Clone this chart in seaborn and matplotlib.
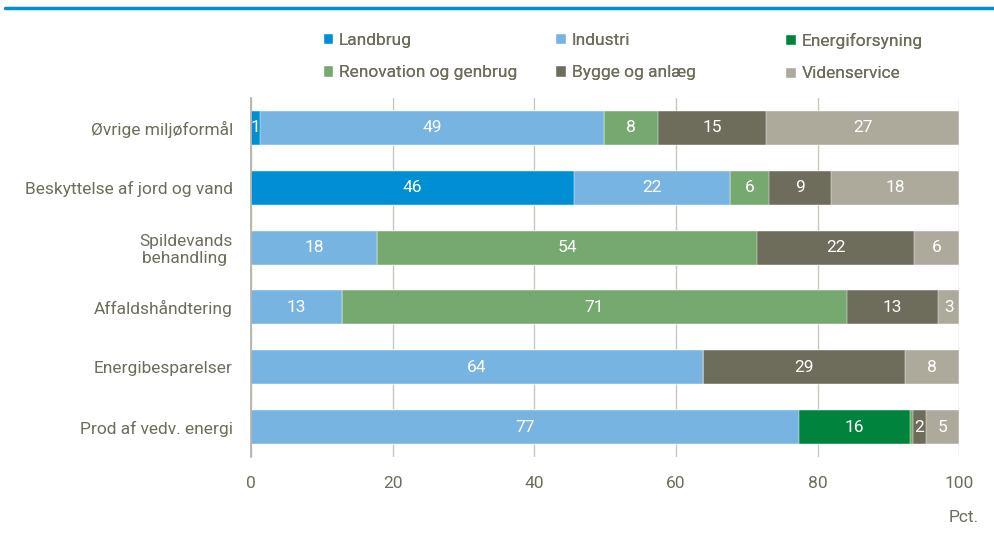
import matplotlib
matplotlib.use("Agg")
import matplotlib.pyplot as plt
from matplotlib.lines import Line2D
from matplotlib.patches import Patch
import numpy as np
import pandas as pd
import seaborn as sns

# data (pct. of each purpose, by sector)
formaal = ["Øvrige miljøformål", "Beskyttelse af jord og vand", "Spildevands\nbehandling ",
           "Affaldshåndtering", "Energibesparelser", "Prod af vedv. energi"]
sektorer = ["Landbrug", "Industri", "Energiforsyning", "Renovation og genbrug",
            "Bygge og anlæg", "Videnservice"]
landbrug = [1.3, 45.6, 0, 0, 0, 0]
industri = [48.6, 22.0, 17.8, 12.8, 63.8, 77.3]
energi = [0, 0, 0, 0, 0, 15.7]
renovation = [7.6, 5.6, 53.7, 71.3, 0, 0.4]
bygge = [15.2, 8.7, 22.1, 12.9, 28.6, 1.9]
viden = [27.3, 18.1, 6.4, 3.0, 7.6, 4.7]

farver = ["#008fd5", "#78b4e2", "#00843d", "#76a96f", "#6e6d5c", "#adaa9b"]
tekst = "#6e6d5c"

sns.set_theme(style="white")
plt.rcParams["font.family"] = ["Roboto", "DejaVu Sans"]

df = pd.DataFrame(dict(zip(sektorer, [landbrug, industri, energi, renovation, bygge, viden])),
                  index=formaal)
cum = df.cumsum(axis=1)

fig = plt.figure(figsize=(9.95, 5.42), dpi=100)
ax = fig.add_axes([0.2523, 0.1568, 0.7118, 0.6624])

# stacked bars: draw cumulative totals from the back
for s, c in reversed(list(zip(sektorer, farver))):
    sns.barplot(x=cum[s].values, y=formaal, color=c, orient="h", width=0.57,
                saturation=1, edgecolor="white", linewidth=0.3, ax=ax)

# segment labels
for i, f in enumerate(formaal):
    start = 0
    for s in sektorer:
        v = df.loc[f, s]
        if v >= 0.5:
            ax.text(start + v / 2, i, f"{v:.0f}", ha="center", va="center",
                    color="white", fontsize=12.5)
        start += v

ax.set_xlim(0, 100)
ax.set_ylim(5.5, -0.5)
ax.set_xticks(range(0, 101, 20))
ax.grid(axis="x", color="#c9c8bd", linewidth=1)
ax.set_axisbelow(True)
for side in ["top", "right", "bottom"]:
    ax.spines[side].set_visible(False)
ax.spines["left"].set_color("#b5b3a8")
ax.tick_params(axis="both", length=0, colors=tekst, labelsize=12.5)
ax.tick_params(axis="x", pad=14)
ax.tick_params(axis="y", pad=13)
for lbl in ax.get_yticklabels():
    lbl.set_multialignment("center")
ax.set_xlabel("")
ax.set_ylabel("")
fig.text(0.984, 0.045, "Pct.", ha="right", va="center", color=tekst, fontsize=12.5)

# legend: three columns placed separately so they sit evenly
kolonner = [(0, 3), (1, 4), (2, 5)]
xpos = [0.312, 0.546, 0.777]
for (a, b), x0 in zip(kolonner, xpos):
    handles = [Patch(facecolor=farver[k], label=sektorer[k]) for k in (a, b)]
    leg = fig.legend(handles=handles, loc="upper left", bbox_to_anchor=(x0, 0.962),
                     frameon=False, fontsize=12.5, handlelength=0.6, handleheight=0.6,
                     handletextpad=0.35, labelcolor=tekst, labelspacing=1.0,
                     borderpad=0.2)
    fig.add_artist(leg)

fig.add_artist(Line2D([0.005, 1], [0.985, 0.985], color="#008fd5", linewidth=2.5))

fig.savefig("out.png", dpi=100)
